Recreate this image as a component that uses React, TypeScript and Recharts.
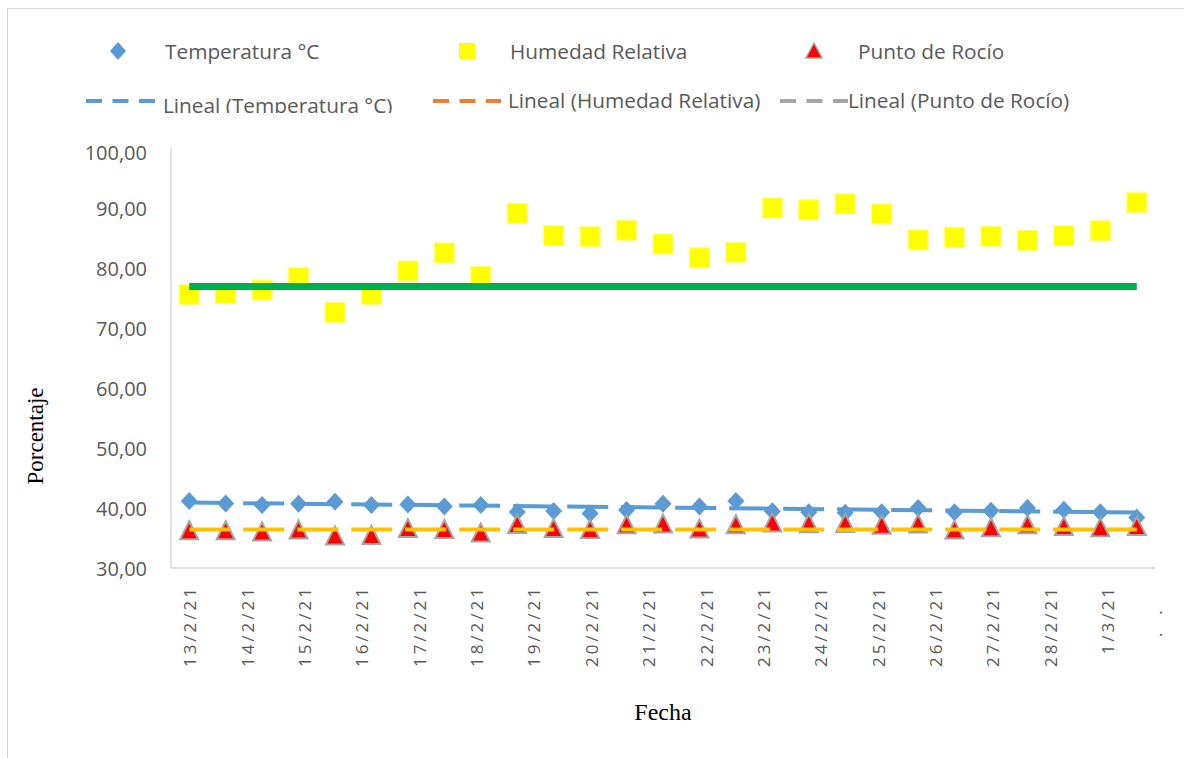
import React from 'react';
import { ComposedChart, Scatter, XAxis, YAxis } from 'recharts';

// ---- data ----
const dateLabels = [
  '13/2/21', '14/2/21', '15/2/21', '16/2/21', '17/2/21', '18/2/21', '19/2/21',
  '20/2/21', '21/2/21', '22/2/21', '23/2/21', '24/2/21', '25/2/21', '26/2/21',
  '27/2/21', '28/2/21', '1/3/21',
];
const endLabel = '.\u00a0\u00a0.\u00a0\u00a0\u00a0';
const yTicks = [30, 40, 50, 60, 70, 80, 90, 100];

const temperatura = [
  41.16, 40.74, 40.5, 40.72, 41.06, 40.5, 40.6, 40.27, 40.5, 39.35, 39.5, 39.1, 39.68,
  40.7, 40.25, 41.18, 39.45, 39.3, 39.2, 39.3, 40.0, 39.3, 39.55, 40.0, 39.7, 39.3, 38.4,
];
const humedad = [
  75.57, 75.74, 76.33, 78.4, 72.6, 75.57, 79.5, 82.5, 78.6, 89.1, 85.4, 85.2, 86.3,
  84.0, 81.7, 82.6, 90.0, 89.7, 90.7, 89.0, 84.7, 85.1, 85.3, 84.6, 85.4, 86.2, 90.9,
];
const rocio = [
  36.3, 36.3, 36.1, 36.4, 35.4, 35.5, 36.65, 36.5, 35.9, 37.35, 36.65, 36.5, 37.3,
  37.4, 36.6, 37.3, 37.6, 37.45, 37.5, 37.2, 37.4, 36.4, 36.8, 37.3, 37.0, 36.8, 37.0,
];
const tendenciaTemperatura = [40.9, 39.25];
const tendenciaRocio = [36.4, 36.4];
const referenciaHumedad = 76.9;

// ---- derived tables ----
const lastIndex = temperatura.length - 1;
const toPoints = (arr: number[]) => arr.map((y, i) => ({ x: i, y }));
const tempData = toPoints(temperatura);
const humData = toPoints(humedad);
const rocioData = toPoints(rocio);
const tendTempData = [
  { x: 0, y: tendenciaTemperatura[0] },
  { x: lastIndex, y: tendenciaTemperatura[1] },
];
const tendRocioData = [
  { x: 0, y: tendenciaRocio[0] },
  { x: lastIndex, y: tendenciaRocio[1] },
];
const refData = [
  { x: 0, y: referenciaHumedad },
  { x: lastIndex, y: referenciaHumedad },
];

const LABEL_MIN = -0.33;
const LABEL_MAX = 16.83;
const labelTicks = [...dateLabels.map((_, i) => i), LABEL_MAX];
const labelAnchorData = [
  { x: 0, y: 30 },
  { x: dateLabels.length - 1, y: 30 },
];

const GRAY_TEXT = '#595959';
const SANS = '"Open Sans", "Liberation Sans", sans-serif';
const SERIF = '"Liberation Serif", "DejaVu Serif", serif';

const Diamond = (props: any) => {
  const { cx, cy } = props;
  if (cx == null || cy == null) return <g />;
  return (
    <polygon
      points={`${cx},${cy - 9} ${cx + 8.5},${cy} ${cx},${cy + 9} ${cx - 8.5},${cy}`}
      fill="#5B9BD5"
    />
  );
};
const Square = (props: any) => {
  const { cx, cy } = props;
  if (cx == null || cy == null) return <g />;
  return (
    <rect x={cx - 10} y={cy - 10} width={20} height={20} fill="#FFFF00" stroke="#FFFF80" strokeWidth={1} />
  );
};
const Triangle = (props: any) => {
  const { cx, cy } = props;
  if (cx == null || cy == null) return <g />;
  return (
    <polygon
      points={`${cx},${cy - 9} ${cx + 9},${cy + 9} ${cx - 9},${cy + 9}`}
      fill="#FF0000"
      stroke="#A5A5A5"
      strokeWidth={2}
      strokeLinejoin="miter"
    />
  );
};
const Nothing = () => <g />;

const YTick = (props: any) => {
  const { y, payload } = props;
  const v = Number(payload.value);
  return (
    <text
      x={147}
      y={v === 100 ? y + 4 : y}
      textAnchor="end"
      dominantBaseline="central"
      fill={GRAY_TEXT}
      fontSize={20}
      fontFamily={SANS}
    >
      {v.toFixed(2).replace('.', ',')}
    </text>
  );
};

const XTick = (props: any) => {
  const { x, payload } = props;
  const v = payload.value;
  const text = v === LABEL_MAX ? endLabel : dateLabels[Math.round(v)];
  const ty = 585;
  return (
    <text
      x={x}
      y={ty}
      transform={`rotate(-90 ${x} ${ty})`}
      textAnchor="end"
      dominantBaseline="central"
      fill={GRAY_TEXT}
      fontSize={17}
      letterSpacing={3}
      fontFamily={SANS}
    >
      {text}
    </text>
  );
};

const Legend = () => (
  <svg width={1184} height={130} style={{ position: 'absolute', left: 0, top: 0 }}>
    <defs>
      <clipPath id="clipRow2">
        <rect x={0} y={0} width={1184} height={113} />
      </clipPath>
    </defs>
    <g fontFamily={SANS} fontSize={20.8} fill={GRAY_TEXT}>
      <polygon points="118,42 126,51 118,60 110,51" fill="#5B9BD5" />
      <text x={165} y={51} dominantBaseline="central">Temperatura °C</text>
      <rect x={459} y={43} width={16} height={16} fill="#FFFF00" />
      <text x={510} y={51} dominantBaseline="central">Humedad Relativa</text>
      <polygon points="814,43 822,58 806,58" fill="#FF0000" stroke="#A5A5A5" strokeWidth={1.5} />
      <text x={858} y={51} dominantBaseline="central">Punto de Rocío</text>

      <line x1={86} y1={101} x2={155} y2={101} stroke="#5B9BD5" strokeWidth={4} strokeDasharray="16 10.5" />
      <g clipPath="url(#clipRow2)">
        <text x={163} y={105} dominantBaseline="central">Lineal (Temperatura °C)</text>
      </g>
      <line x1={433} y1={101} x2={501} y2={101} stroke="#ED7D31" strokeWidth={4} strokeDasharray="16 10.5" />
      <text x={508} y={100} dominantBaseline="central">Lineal (Humedad Relativa)</text>
      <line x1={780} y1={101} x2={848} y2={101} stroke="#A5A5A5" strokeWidth={4} strokeDasharray="16 10.5" />
      <text x={848} y={100} dominantBaseline="central">Lineal (Punto de Rocío)</text>
    </g>
  </svg>
);

export default function App() {
  return (
    <div
      style={{
        position: 'fixed',
        left: 0,
        top: 0,
        width: 1184,
        height: 758,
        overflow: 'hidden',
        background: '#fff',
      }}
    >
      <div
        style={{
          position: 'absolute',
          left: 7,
          top: 8,
          width: 1300,
          height: 900,
          border: '1.5px solid #D9D9D9',
          boxSizing: 'border-box',
        }}
      />
      <div style={{ position: 'absolute', left: 0, top: 0 }}>
        <ComposedChart
          width={1184}
          height={758}
          margin={{ top: 148, right: 29, bottom: 160, left: 111 }}
        >
          <XAxis
            xAxisId="p"
            type="number"
            dataKey="x"
            domain={[-0.5, lastIndex + 0.5]}
            allowDataOverflow
            hide
          />
          <XAxis
            xAxisId="l"
            type="number"
            dataKey="x"
            domain={[LABEL_MIN, LABEL_MAX]}
            allowDataOverflow
            ticks={labelTicks}
            interval={0}
            height={30}
            axisLine={{ stroke: '#D9D9D9', strokeWidth: 1.5 }}
            tickLine={false}
            tick={XTick}
          />
          <YAxis
            type="number"
            dataKey="y"
            domain={[30, 100]}
            ticks={yTicks}
            interval={0}
            width={60}
            allowDataOverflow
            axisLine={{ stroke: '#D9D9D9', strokeWidth: 1.5 }}
            tickLine={false}
            tick={YTick}
          />
          <Scatter xAxisId="l" data={labelAnchorData} shape={Nothing} isAnimationActive={false} />
          <Scatter xAxisId="p" data={humData} shape={Square} isAnimationActive={false} />
          <Scatter xAxisId="p" data={tempData} shape={Diamond} isAnimationActive={false} />
          <Scatter xAxisId="p" data={rocioData} shape={Triangle} isAnimationActive={false} />
          <Scatter
            xAxisId="p"
            data={tendTempData}
            shape={Nothing}
            line={{ stroke: '#5B9BD5', strokeWidth: 4, strokeDasharray: '41 13' }}
            isAnimationActive={false}
          />
          <Scatter
            xAxisId="p"
            data={tendRocioData}
            shape={Nothing}
            line={{ stroke: '#FFC000', strokeWidth: 4, strokeDasharray: '41 13' }}
            isAnimationActive={false}
          />
          <Scatter
            xAxisId="p"
            data={refData}
            shape={Nothing}
            line={{ stroke: '#00B050', strokeWidth: 7 }}
            isAnimationActive={false}
          />
        </ComposedChart>
      </div>
      <Legend />
      <svg width={1184} height={758} style={{ position: 'absolute', left: 0, top: 0, pointerEvents: 'none' }}>
        <text
          x={35}
          y={436}
          transform="rotate(-90 35 436)"
          textAnchor="middle"
          dominantBaseline="central"
          fontFamily={SERIF}
          fontSize={23}
          fill="#000"
        >
          Porcentaje
        </text>
        <text
          x={663}
          y={712}
          textAnchor="middle"
          dominantBaseline="central"
          fontFamily={SERIF}
          fontSize={24}
          fill="#000"
        >
          Fecha
        </text>
      </svg>
    </div>
  );
}
